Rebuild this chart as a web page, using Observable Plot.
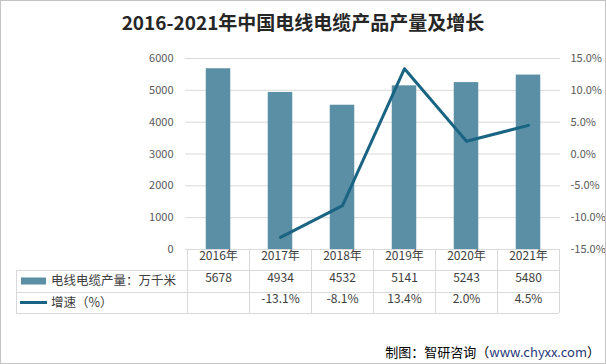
<!DOCTYPE html>
<html><head><meta charset="utf-8">
<script src="https://cdn.jsdelivr.net/npm/d3@7"></script>
<script src="https://cdn.jsdelivr.net/npm/@observablehq/plot@0.6"></script>
<style>
body{margin:0;background:#fff;}
#wrap{position:relative;width:606px;height:364px;box-sizing:border-box;border:1px solid #c4c4c4;font-family:"Noto Sans CJK SC",sans-serif;overflow:hidden;background:#fff;}
#title{position:absolute;left:0;top:7px;width:604px;text-align:center;font-size:19px;font-weight:bold;color:#262626;line-height:28px;}
#chart{position:absolute;left:-1px;top:-1px;}
#caption{position:absolute;right:5px;top:341px;font-size:13px;line-height:20px;color:#000;}
</style></head>
<body><div id="wrap"><div id="title">2016-2021年中国电线电缆产品产量及增长</div><div id="chart"></div><div id="caption">制图：智研咨询（<span style="color:#1f3a7a">www.chyxx.com</span>）</div></div>
<script>
const years = ["2016年","2017年","2018年","2019年","2020年","2021年"];
const output = [5678,4934,4532,5141,5243,5480];
const growthYears = ["2017年","2018年","2019年","2020年","2021年"];
const growth = [-13.1,-8.1,13.4,2.0,4.5];
const leftTicks = [0,1000,2000,3000,4000,5000,6000];
const rightTicks = [-15,-10,-5,0,5,10,15];
const seriesNames = ["电线电缆产量：万千米","增速（%）"];

const barColor = "#5b8fa5";
const lineColor = "#1a6483";
const toLeft = g => (g + 15) * 200;

const barData = years.map((y, i) => ({year: y, v: output[i]}));
const lineData = growthYears.map((y, i) => ({year: y, g: growth[i]}));

const W = 606, H = 330;
const chart = Plot.plot({
  width: W, height: H,
  marginTop: 58, marginBottom: 81, marginLeft: 185, marginRight: 46,
  style: {background: "transparent", maxWidth: "none", overflow: "visible", fontFamily: "'Noto Sans CJK SC', sans-serif"},
  x: {domain: years, padding: 0, axis: null},
  y: {domain: [0, 6000], axis: null},
  marks: [
    Plot.gridY(leftTicks, {stroke: "#d9d9d9", strokeOpacity: 1}),
    Plot.axisY(leftTicks, {anchor: "left", tickSize: 0, tickPadding: 12, label: null, fontSize: 11, fill: "#595959", tickFormat: d => String(d)}),
    Plot.axisY(rightTicks.map(toLeft), {anchor: "right", tickSize: 0, tickPadding: 10, label: null, fontSize: 11, fill: "#595959",
      tickFormat: v => (v / 200 - 15).toFixed(1) + "%"}),
    Plot.barY(barData, {x: "year", y: "v", fill: barColor, insetLeft: 18.75, insetRight: 18.75}),
    Plot.line(lineData, {x: "year", y: d => toLeft(d.g), stroke: lineColor, strokeWidth: 3}),
    Plot.text(years, {x: d => d, text: d => d, frameAnchor: "bottom", dy: 10.5, fontSize: 12, fill: "#404040"}),
    Plot.text(barData, {x: "year", text: d => String(d.v), frameAnchor: "bottom", dy: 32, fontSize: 12, fill: "#404040"}),
    Plot.text(lineData, {x: "year", text: d => d.g.toFixed(1) + "%", frameAnchor: "bottom", dy: 53.5, fontSize: 12, fill: "#404040"})
  ]
});
document.getElementById("chart").appendChild(chart);

// table grid and legend swatches
const xs = chart.scale("x"), ys = chart.scale("y");
const bw = xs.bandwidth;
const x1 = xs.apply(years[years.length - 1]) + bw;
const yTop = ys.apply(0);
const rowH = [21, 22, 21];
const r1 = yTop + rowH[0], r2 = r1 + rowH[1], r3 = r2 + rowH[2];
const tableLeft = 16;
const svg = d3.select(chart);
const g = svg.append("g").attr("stroke", "#d9d9d9").attr("stroke-width", 1).attr("fill", "none");
[r1, r2, r3].forEach(y => g.append("line").attr("x1", tableLeft).attr("x2", x1).attr("y1", Math.round(y) + 0.5).attr("y2", Math.round(y) + 0.5));
g.append("line").attr("x1", tableLeft + 0.5).attr("x2", tableLeft + 0.5).attr("y1", r1).attr("y2", r3);
years.forEach(y => {
  const xx = Math.round(xs.apply(y)) + 0.5;
  g.append("line").attr("x1", xx).attr("x2", xx).attr("y1", yTop).attr("y2", r3);
});
g.append("line").attr("x1", Math.round(x1) + 0.5).attr("x2", Math.round(x1) + 0.5).attr("y1", yTop).attr("y2", r3);

const c1 = (r1 + r2) / 2, c2 = (r2 + r3) / 2;
svg.append("rect").attr("x", 21).attr("y", c1 - 3.5).attr("width", 25).attr("height", 7).attr("fill", barColor);
svg.append("line").attr("x1", 20).attr("x2", 47).attr("y1", c2).attr("y2", c2).attr("stroke", lineColor).attr("stroke-width", 3);
[[seriesNames[0], c1], [seriesNames[1], c2]].forEach(([t, y]) => {
  svg.append("text").attr("x", 51).attr("y", y).attr("dy", "0.35em").attr("text-anchor", "start")
    .attr("font-size", 12.5).attr("fill", "#404040").text(t);
});
</script>
</body></html>
